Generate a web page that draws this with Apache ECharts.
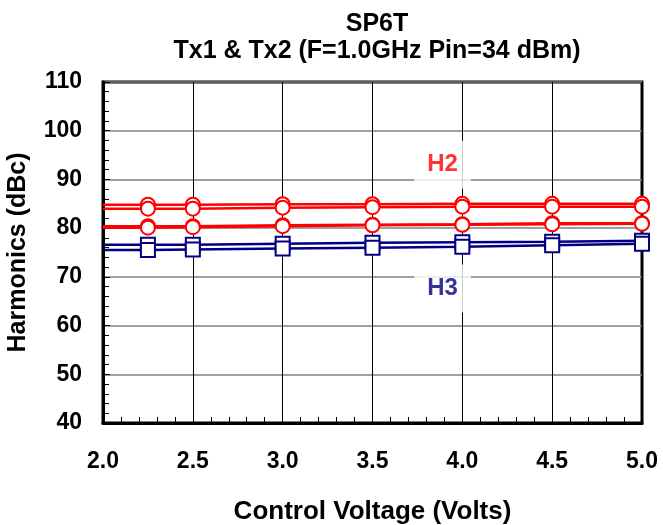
<!DOCTYPE html>
<html>
<head>
<meta charset="utf-8">
<script src="https://cdn.jsdelivr.net/npm/echarts@6/dist/echarts.min.js"></script>
<style>
  html, body { margin: 0; padding: 0; background: #fff; }
  #chart { width: 663px; height: 525px; }
</style>
</head>
<body>
<div id="chart"></div>
<script>
// control voltage (V); first point has no marker in the original plot
const voltages = [2.0, 2.25, 2.5, 3.0, 3.5, 4.0, 4.5, 5.0]

// H2 (dBc), two pairs of traces
const h2TopA = [84.8, 84.8, 84.8, 84.9, 84.9, 85.0, 85.0, 85.0]
const h2TopB = [84.0, 84.0, 84.0, 84.2, 84.3, 84.4, 84.4, 84.4]
const h2LowA = [80.4, 80.4, 80.4, 80.6, 80.7, 80.8, 81.0, 81.0]
const h2LowB = [80.1, 80.1, 80.2, 80.4, 80.6, 80.7, 80.8, 80.9]

// H3 (dBc)
const h3A = [76.6, 76.6, 76.6, 76.8, 77.0, 77.1, 77.2, 77.4]
const h3B = [75.5, 75.5, 75.6, 75.8, 76.0, 76.2, 76.5, 76.8]

// in-plot labels
const noteText = ['H2', 'H3']
const noteX = [3.89, 3.89]
const noteY = [93.0, 67.6]

const red = '#ff0000'
const navy = '#000080'
const font = '"Liberation Sans", Arial, sans-serif'

const chart = echarts.init(document.getElementById('chart'))

function pairs (values) {
  return voltages.map((v, i) => {
    const item = { value: [v, values[i]] }
    if (i === 0) item.symbol = 'none'
    return item
  })
}

function traceSeries (values, color, symbol) {
  return {
    type: 'line',
    data: pairs(values),
    symbol,
    symbolSize: 14,
    showAllSymbol: true,
    lineStyle: { color, width: 2.5 },
    itemStyle: { color, borderColor: color, borderWidth: 1.5 },
    z: 3
  }
}

const option = {
  animation: false,
  title: {
    text: 'SP6T\nTx1 & Tx2 (F=1.0GHz Pin=34 dBm)',
    left: 372,
    textAlign: 'center',
    top: 6,
    textStyle: {
      fontFamily: font,
      fontWeight: 'bold',
      fontSize: 25,
      lineHeight: 27,
      color: '#000'
    }
  },
  grid: {
    left: 103,
    right: 21,
    top: 82,
    bottom: 102,
    outerBoundsMode: 'none',
    show: true,
    borderColor: '#000',
    borderWidth: 3
  },
  xAxis: {
    type: 'value',
    min: 2,
    max: 5,
    interval: 0.5,
    name: 'Control Voltage (Volts)',
    nameLocation: 'middle',
    nameGap: 76,
    nameTextStyle: { fontFamily: font, fontWeight: 'bold', fontSize: 26, color: '#000' },
    axisLine: { show: true, lineStyle: { color: '#000', width: 3 } },
    axisTick: { show: true, inside: true, length: 6, lineStyle: { color: '#000' } },
    minorTick: { show: true, splitNumber: 5, length: 6, lineStyle: { color: '#000' } },
    splitLine: { show: true, lineStyle: { color: '#000', width: 1 } },
    axisLabel: {
      margin: 27,
      fontFamily: font,
      fontWeight: 'bold',
      fontSize: 23,
      color: '#000',
      formatter: v => v.toFixed(1)
    }
  },
  yAxis: {
    type: 'value',
    min: 40,
    max: 110,
    interval: 10,
    name: 'Harmonics (dBc)',
    nameLocation: 'middle',
    nameGap: 72,
    nameTextStyle: { fontFamily: font, fontWeight: 'bold', fontSize: 25, color: '#000' },
    axisLine: { show: true, lineStyle: { color: '#000', width: 3 } },
    axisTick: { show: true, inside: true, length: 7, lineStyle: { color: '#000' } },
    minorTick: { show: true, splitNumber: 5, length: 6, lineStyle: { color: '#000' } },
    splitLine: { show: true, lineStyle: { color: '#808080', width: 1.5 } },
    axisLabel: {
      margin: 21,
      fontFamily: font,
      fontWeight: 'bold',
      fontSize: 23,
      color: '#000'
    }
  },
  series: [
    traceSeries(h2TopA, red, 'emptyCircle'),
    traceSeries(h2TopB, red, 'emptyCircle'),
    traceSeries(h2LowA, red, 'emptyCircle'),
    traceSeries(h2LowB, red, 'emptyCircle'),
    traceSeries(h3A, navy, 'emptyRect'),
    traceSeries(h3B, navy, 'emptyRect'),
    {
      type: 'scatter',
      symbolSize: 0,
      z: 4,
      data: noteText.map((t, i) => ({
        value: [noteX[i], noteY[i]],
        name: t,
        label: { color: i === 0 ? red : navy }
      })),
      label: {
        show: true,
        position: 'inside',
        formatter: p => p.name,
        fontFamily: font,
        fontWeight: 'bold',
        fontSize: 24,
        backgroundColor: '#fff',
        padding: [12, 13]
      }
    }
  ]
}

chart.setOption(option)
</script>
</body>
</html>
